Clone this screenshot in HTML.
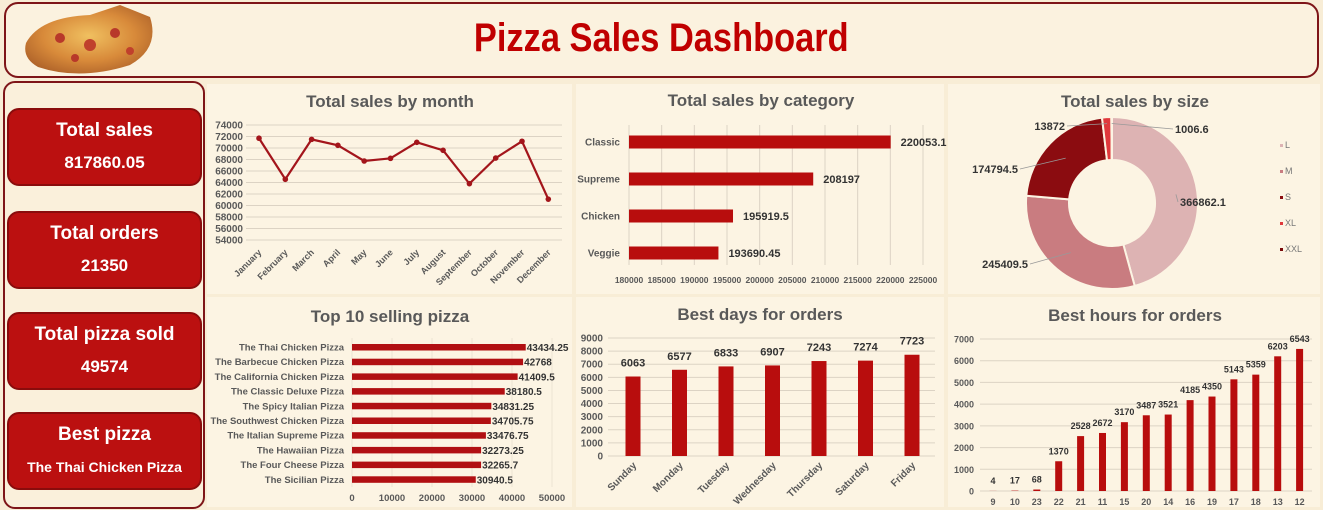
<!DOCTYPE html>
<html><head><meta charset="utf-8">
<style>
body{margin:0;width:1323px;height:510px;overflow:hidden;background:#f8edd6;font-family:"Liberation Sans",sans-serif;position:relative}
.abs{position:absolute}
.header{left:4px;top:2px;width:1311px;height:72px;border:2px solid #7e1518;border-radius:14px;background:#fbf2df}
.title{left:0;top:2px;width:1323px;text-align:center;font-family:"Liberation Sans Narrow","Liberation Sans",sans-serif;font-weight:bold;font-size:40px;color:#c00000;line-height:72px;transform:scaleX(0.86);transform-origin:660px 0}
.leftp{left:3px;top:81px;width:198px;height:424px;border:2px solid #7e1518;border-radius:12px;background:#faf0db}
.card{left:7px;width:191px;height:74px;background:#bb1010;border:2px solid #8a0c0c;border-radius:12px;color:#fff;text-align:center;font-weight:bold}
.card .t{font-size:19px;margin-top:10px}
.card .v{font-size:17px;margin-top:11px}
svg text{font-family:"Liberation Sans",sans-serif}
</style></head><body>
<div class="abs header"></div>
<svg class="abs" style="left:20px;top:3px" width="140" height="72">
<defs><radialGradient id="pz" cx="50%" cy="45%" r="60%"><stop offset="0" stop-color="#f0c060"/><stop offset="0.6" stop-color="#d88a3a"/><stop offset="1" stop-color="#b0642a"/></radialGradient></defs>
<path d="M6 40 Q20 14 70 12 L100 2 L130 14 Q140 45 110 62 Q60 78 18 64 Q2 55 6 40Z" fill="url(#pz)"/>
<circle cx="40" cy="35" r="5" fill="#b8382a"/><circle cx="70" cy="42" r="6" fill="#c0402c"/><circle cx="95" cy="30" r="5" fill="#b8382a"/><circle cx="55" cy="55" r="4" fill="#b8382a"/><circle cx="110" cy="48" r="4" fill="#c0402c"/>
</svg>
<div class="abs title">Pizza Sales Dashboard</div>
<div class="abs leftp"></div>
<div class="abs card" style="top:108px"><div class="t">Total sales</div><div class="v">817860.05</div></div>
<div class="abs card" style="top:211px"><div class="t">Total orders</div><div class="v">21350</div></div>
<div class="abs card" style="top:312px"><div class="t">Total pizza sold</div><div class="v">49574</div></div>
<div class="abs card" style="top:412px"><div class="t">Best pizza</div><div class="v" style="font-size:14px;margin-top:13px">The Thai Chicken Pizza</div></div>

<svg class="abs" style="left:0;top:0" width="1323" height="510" id="charts"></svg>
<script>
const months=["January","February","March","April","May","June","July","August","September","October","November","December"];
const monthSales=[71700,64560,71500,70470,67740,68200,70990,69600,63800,68250,71170,61100];
const monthTicks=[54000,56000,58000,60000,62000,64000,66000,68000,70000,72000,74000];
const categories=["Classic","Supreme","Chicken","Veggie"];
const categorySales=[220053.1,208197,195919.5,193690.45];
const categoryTicks=[180000,185000,190000,195000,200000,205000,210000,215000,220000,225000];
const sizes=["L","M","S","XL","XXL"];
const sizeSales=[366862.1,245409.5,174794.5,13872,1006.6];
const pizzas=["The Thai Chicken Pizza","The Barbecue Chicken Pizza","The California Chicken Pizza","The Classic Deluxe Pizza","The Spicy Italian Pizza","The Southwest Chicken Pizza","The Italian Supreme Pizza","The Hawaiian Pizza","The Four Cheese Pizza","The Sicilian Pizza"];
const pizzaSales=[43434.25,42768,41409.5,38180.5,34831.25,34705.75,33476.75,32273.25,32265.7,30940.5];
const pizzaTicks=[0,10000,20000,30000,40000,50000];
const days=["Sunday","Monday","Tuesday","Wednesday","Thursday","Saturday","Friday"];
const dayOrders=[6063,6577,6833,6907,7243,7274,7723];
const dayTicks=[0,1000,2000,3000,4000,5000,6000,7000,8000,9000];
const hours=["9","10","23","22","21","11","15","20","14","16","19","17","18","13","12"];
const hourOrders=[4,17,68,1370,2528,2672,3170,3487,3521,4185,4350,5143,5359,6203,6543];
const hourTicks=[0,1000,2000,3000,4000,5000,6000,7000];

const svg=document.getElementById('charts');
const NS='http://www.w3.org/2000/svg';
function el(tag,attrs,parent){const e=document.createElementNS(NS,tag);for(const k in attrs)e.setAttribute(k,attrs[k]);(parent||svg).appendChild(e);return e;}
function txt(s,attrs,parent){const e=el('text',attrs,parent);e.textContent=s;return e;}
const RED='#b80d0d',GREY='#595959',GRID='#dcd3c4';

const panels=[[207,84,365,210,'month-panel'],[576,84,368,210,'category-panel'],[948,84,372,210,'size-panel'],[207,297,365,210,'top10-panel'],[576,297,368,210,'days-panel'],[948,297,372,210,'hours-panel']];
for(const p of panels){const r=el('rect',{x:p[0],y:p[1],width:p[2],height:p[3],fill:'#fcf4e3'});

}
const titles=[["Total sales by month",390,107],["Total sales by category",761,106],["Total sales by size",1135,107],["Top 10 selling pizza",390,322],["Best days for orders",760,320],["Best hours for orders",1135,321]];
for(const t of titles){const e=txt(t[0],{x:t[1],y:t[2],'text-anchor':'middle','font-size':17,'font-weight':'bold',fill:GREY});

}

(function(){
const x0=259,dx=26.3,yTop=125,yBot=240;
const ys=v=>yBot-(v-54000)/(74000-54000)*(yBot-yTop);
const g=el('g',{});
monthTicks.forEach(t=>{el('line',{x1:246,x2:562,y1:ys(t),y2:ys(t),stroke:GRID,'stroke-width':1},g);
txt(t,{x:243,y:ys(t)+3.5,'text-anchor':'end','font-size':10,fill:GREY,'font-weight':'bold'},g);});
const pts=monthSales.map((v,i)=>[x0+i*dx,ys(v)]);
const pl=el('polyline',{points:pts.map(p=>p.join(',')).join(' '),fill:'none',stroke:'#a3151b','stroke-width':2.2},g);

pts.forEach((p,i)=>{const c=el('circle',{cx:p[0],cy:p[1],r:2.8,fill:'#a3151b'},g);


txt(months[i],{x:p[0]+3,y:253,'text-anchor':'end','font-size':9,fill:GREY,'font-weight':'bold',transform:`rotate(-45 ${p[0]+3} 253)`},g);});
})();

(function(){
const xa=629,xb=923,ya=142,dy=37;
const xs=v=>xa+(v-180000)/(225000-180000)*(xb-xa);
categoryTicks.forEach(t=>{el('line',{x1:xs(t),x2:xs(t),y1:125,y2:265,stroke:GRID});
txt(t,{x:xs(t),y:283,'text-anchor':'middle','font-size':8.5,fill:GREY,'font-weight':'bold'});});
categorySales.forEach((v,i)=>{const y=ya+i*dy;
const b=el('rect',{x:xa,y:y-6.5,width:xs(v)-xa,height:13,fill:RED});


txt(categories[i],{x:620,y:y+3.5,'text-anchor':'end','font-size':10,fill:GREY,'font-weight':'bold'});
txt(v,{x:xs(v)+10,y:y+4,'font-size':11,fill:'#333','font-weight':'bold'});});
})();

(function(){
const cx=1112,cy=203,R=86,r=43;
const cols=['#ddb3b3','#c97c80','#8b0c10','#e0383c','#7a0a0a'];
const total=sizeSales.reduce((a,b)=>a+b,0);
let a=-Math.PI/2;
const labPos=[[1180,206,'start'],[1028,268,'end'],[1018,173,'end'],[1065,130,'end'],[1175,133,'start']];
sizeSales.forEach((v,i)=>{const a2=a+v/total*2*Math.PI;
const p=(ang,rad)=>[cx+rad*Math.cos(ang),cy+rad*Math.sin(ang)];
const [x1,y1]=p(a,R),[x2,y2]=p(a2,R),[x3,y3]=p(a2,r),[x4,y4]=p(a,r);
const lg=(a2-a)>Math.PI?1:0;
const s=el('path',{d:`M${x1},${y1} A${R},${R} 0 ${lg} 1 ${x2},${y2} L${x3},${y3} A${r},${r} 0 ${lg} 0 ${x4},${y4}Z`,fill:cols[i],stroke:'#fcf4e3','stroke-width':2});


const m=(a+a2)/2,[mx,my]=p(m,(R+r)/2+(i>=3?15:0));
const lp=labPos[i];
el('line',{x1:mx,y1:my,x2:lp[2]=='start'?lp[0]-2:lp[0]+2,y2:lp[1]-4,stroke:'#999','stroke-width':0.8});
txt(v,{x:lp[0],y:lp[1],'text-anchor':lp[2],'font-size':11,'font-weight':'bold',fill:'#333'});
const lgx=1280,lgy=148+i*26;
el('rect',{x:lgx,y:lgy-4,width:3,height:3,fill:cols[i]});
txt(sizes[i],{x:lgx+5,y:lgy,'font-size':9,fill:'#777'});
a=a2;});
})();

(function(){
const x0=352,x1=552,y0=347,dy=14.7;
const xs=v=>x0+v/50000*(x1-x0);
pizzaTicks.forEach(t=>{el('line',{x1:xs(t),x2:xs(t),y1:338,y2:487,stroke:'#ece3d3'});
txt(t,{x:xs(t),y:501,'text-anchor':'middle','font-size':9.5,fill:GREY,'font-weight':'bold'});});
pizzaSales.forEach((v,i)=>{const y=y0+i*dy;
const b=el('rect',{x:x0,y:y-3,width:xs(v)-x0,height:6.5,fill:'#b10f12'});


txt(pizzas[i],{x:344,y:y+3.5,'text-anchor':'end','font-size':9.5,fill:GREY,'font-weight':'bold'});
txt(v,{x:xs(v)+1,y:y+4,'font-size':10,'font-weight':'bold',fill:'#333'});});
})();

(function(){
const yb=456,yt=338,x0=633,dx=46.5;
const ys=v=>yb-v/9000*(yb-yt);
dayTicks.forEach(t=>{el('line',{x1:608,x2:935,y1:ys(t),y2:ys(t),stroke:GRID});
txt(t,{x:603,y:ys(t)+3.5,'text-anchor':'end','font-size':10,fill:GREY,'font-weight':'bold'});});
dayOrders.forEach((v,i)=>{const x=x0+i*dx;
const b=el('rect',{x:x-7.5,y:ys(v),width:15,height:yb-ys(v),fill:RED});


txt(v,{x:x,y:ys(v)-10,'text-anchor':'middle','font-size':11,'font-weight':'bold',fill:'#333'});
txt(days[i],{x:x+4,y:466,'text-anchor':'end','font-size':10,fill:GREY,'font-weight':'bold',transform:`rotate(-45 ${x+4} 466)`});});
})();

(function(){
const yb=491,yt=339,x0=993,dx=21.9;
const ys=v=>yb-v/7000*(yb-yt);
hourTicks.forEach(t=>{el('line',{x1:980,x2:1312,y1:ys(t),y2:ys(t),stroke:GRID});
txt(t,{x:974,y:ys(t)+3.5,'text-anchor':'end','font-size':9,fill:GREY,'font-weight':'bold'});});
hourOrders.forEach((v,i)=>{const x=x0+i*dx;
const b=el('rect',{x:x-3.5,y:ys(v),width:7,height:yb-ys(v),fill:RED});


txt(v,{x:x,y:ys(v)-7,'text-anchor':'middle','font-size':9,'font-weight':'bold',fill:'#333'});
txt(hours[i],{x:x,y:505,'text-anchor':'middle','font-size':9,fill:GREY,'font-weight':'bold'});});
})();
</script>
</body></html>
